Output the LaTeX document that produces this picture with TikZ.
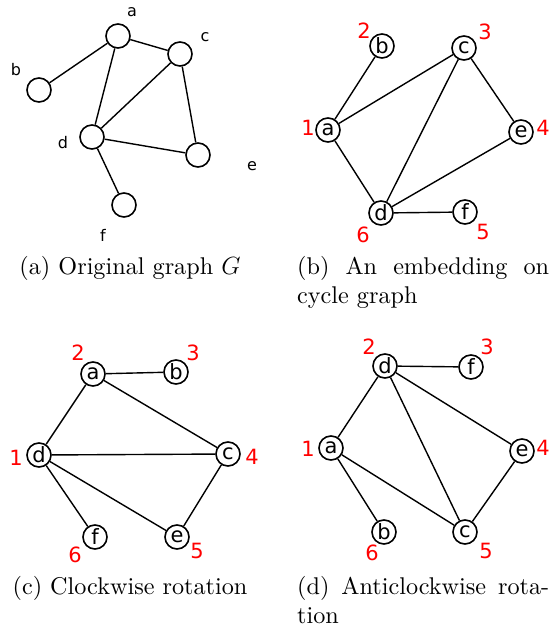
\documentclass[tikz,border=0pt]{standalone}
\usepackage{fontspec}
\newfontfamily\nodefont{DejaVu Sans}
\newfontfamily\capfont{lmroman10-regular}[Extension=.otf]
\begin{document}
\begin{tikzpicture}[x=1pt,y=-1pt,
  vtx/.style={circle,draw,line width=1.6pt,minimum size=24pt,inner sep=0pt,font=\nodefont\fontsize{21}{21}\selectfont},
  lbl/.style={font=\nodefont\fontsize{16}{16}\selectfont,inner sep=0pt},
  num/.style={font=\nodefont\fontsize{21}{21}\selectfont,text=red,inner sep=0pt},
  lnk/.style={line width=1.4pt},
  captxt/.style={anchor=base,inner sep=0pt,font=\capfont\fontsize{24.2}{29}\selectfont}]
\useasboundingbox (0,0) rectangle (551,633);
% ---------- (a)
\node[vtx] (aa) at (118,36) {};
\node[vtx] (ac) at (180,54) {};
\node[vtx] (ab) at (39,90) {};
\node[vtx] (ad) at (92,137) {};
\node[vtx] (ae) at (198,155) {};
\node[vtx] (af) at (124,205) {};
\node[lbl] (la) at (132,12) {a};
\node[lbl] (lc) at (205,37) {c};
\node[lbl] (lb) at (16,70) {b};
\node[lbl] (ld) at (63,143) {d};
\node[lbl] (le) at (252,166) {e};
\node[lbl] (lf) at (103,235) {f};
\draw[lnk] (aa)--(ab) (aa)--(ac) (aa)--(ad) (ac)--(ad) (ac)--(ae) (ad)--(ae) (ad)--(af);
% ---------- (b)
\node[vtx] (ba) at (328,130) {a};
\node[vtx] (bb) at (382,46) {b};
\node[vtx] (bc) at (464,48) {c};
\node[vtx] (be) at (521,132) {e};
\node[vtx] (bd) at (381,213) {d};
\node[vtx] (bf) at (465,212) {f};
\node[num] (b1) at (308,128) {1};
\node[num] (b2) at (364,31) {2};
\node[num] (b3) at (485,32) {3};
\node[num] (b4) at (543,128) {4};
\node[num] (b5) at (483,232) {5};
\node[num] (b6) at (363,235) {6};
\draw[lnk] (ba)--(bb) (ba)--(bc) (ba)--(bd) (bc)--(bd) (bc)--(be) (bd)--(be) (bd)--(bf);
% ---------- (c)
\node[vtx] (ca) at (93,374) {a};
\node[vtx] (cb) at (176,372) {b};
\node[vtx] (cd) at (39,455) {d};
\node[vtx] (cc) at (228,454) {c};
\node[vtx] (cf) at (95,537) {f};
\node[vtx] (ce) at (177,537) {e};
\node[num] (c1) at (16,458) {1};
\node[num] (c2) at (78,353) {2};
\node[num] (c3) at (193,353) {3};
\node[num] (c4) at (252,457) {4};
\node[num] (c5) at (197,551) {5};
\node[num] (c6) at (75,555) {6};
\draw[lnk] (ca)--(cb) (ca)--(cd) (ca)--(cc) (cd)--(cc) (cd)--(cf) (cd)--(ce) (cc)--(ce);
% ---------- (d)
\node[vtx] (dd) at (385,366) {d};
\node[vtx] (df) at (471,367) {f};
\node[vtx] (da) at (331,448) {a};
\node[vtx] (de) at (522,451) {e};
\node[vtx] (db) at (384,532) {b};
\node[vtx] (dc) at (465,532) {c};
\node[num] (d1) at (308,449) {1};
\node[num] (d2) at (369,347) {2};
\node[num] (d3) at (487,347) {3};
\node[num] (d4) at (543,448) {4};
\node[num] (d5) at (486,551) {5};
\node[num] (d6) at (372,553) {6};
\draw[lnk] (dd)--(df) (dd)--(da) (dd)--(dc) (dd)--(de) (da)--(dc) (da)--(db) (dc)--(de);
% ---------- captions
\node[captxt] (capa) at (130,274) {(a) Original graph $G$};
\node[captxt,anchor=base west] (capb) at (297,274) {\parbox[t]{252pt}{(b) An embedding on\linebreak cycle graph}};
\node[captxt] (capc) at (130,594) {(c) Clockwise rotation};
\node[captxt,anchor=base west] (capd) at (297,594) {\parbox[t]{252pt}{(d) Anticlockwise rota-\linebreak tion}};
\end{tikzpicture}
\end{document}
